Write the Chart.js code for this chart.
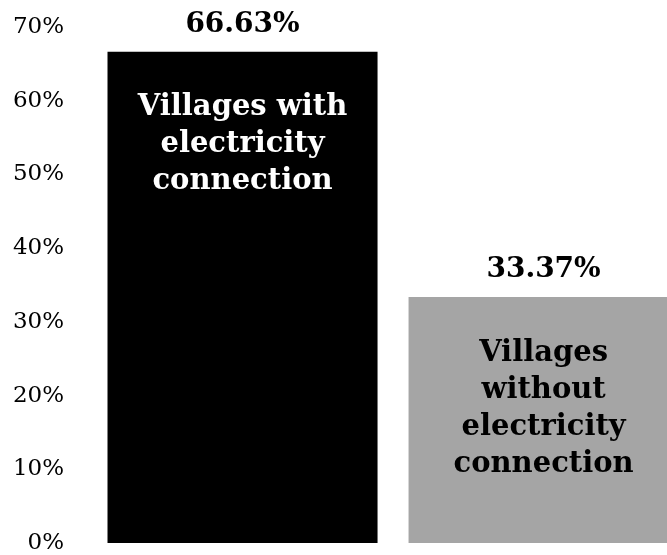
<!DOCTYPE html>
<html>
<head>
<meta charset="utf-8">
<script src="https://cdn.jsdelivr.net/npm/chart.js@4"></script>
<style>
  html, body { margin: 0; padding: 0; background: #fff; }
  #wrap { width: 667px; height: 555px; }
</style>
</head>
<body>
<div id="wrap"><canvas id="c" width="667" height="555"></canvas></div>
<script>
// Share of villages by electricity connection status
const categories = ['Villages with electricity connection', 'Villages without electricity connection'];
const barLines = [
  ['Villages with', 'electricity', 'connection'],
  ['Villages', 'without', 'electricity', 'connection']
];
const shares = [66.63, 33.37];
const shareLabels = ['66.63%', '33.37%'];
const tickValues = [0, 10, 20, 30, 40, 50, 60, 70];

const SERIF = '"DejaVu Serif", "Liberation Serif", serif';

// Writes the value above each bar and the category name inside it
const barText = {
  id: 'barText',
  afterDatasetsDraw(chart) {
    const ctx = chart.ctx;
    const meta = chart.getDatasetMeta(0);
    ctx.save();
    ctx.textAlign = 'center';
    ctx.textBaseline = 'middle';
    meta.data.forEach((bar, i) => {
      ctx.fillStyle = '#000';
      ctx.font = 'bold 28px ' + SERIF;
      ctx.fillText(shareLabels[i], bar.x, bar.y - 27);
      ctx.fillStyle = i === 0 ? '#fff' : '#000';
      ctx.font = 'bold 29px ' + SERIF;
      barLines[i].forEach((line, k) => {
        ctx.fillText(line, bar.x, bar.y + 56 + k * 37);
      });
    });
    ctx.restore();
  }
};

new Chart(document.getElementById('c'), {
  type: 'bar',
  data: {
    datasets: [{
      label: 'Share of villages',
      data: shares.map((v, i) => ({ x: i, y: v, name: categories[i] })),
      backgroundColor: ['#000000', '#a5a5a5'],
      borderWidth: 0,
      categoryPercentage: 1,
      barPercentage: 0.897
    }]
  },
  options: {
    responsive: false,
    animation: false,
    layout: { padding: { top: 27, bottom: 12, left: 0, right: 0 } },
    plugins: { legend: { display: false }, tooltip: { enabled: false } },
    scales: {
      // the second bar runs past the right edge of the canvas
      x: {
        type: 'linear', display: false, offset: false, min: -0.5, max: 1.41,
        afterBuildTicks(axis) { axis.ticks = [{ value: 0 }, { value: 1 }]; }
      },
      y: {
        min: 0,
        max: 70,
        afterBuildTicks(axis) { axis.ticks = tickValues.map(v => ({ value: v })); },
        afterFit(axis) { axis.paddingTop = 0; axis.paddingBottom = 0; axis.width = 92; },
        grid: { display: false, drawTicks: false },
        border: { display: false },
        ticks: {
          color: '#000',
          padding: 28,
          font: { family: SERIF, size: 23 },
          callback: v => v + '%'
        }
      }
    }
  },
  plugins: [barText]
});
</script>
</body>
</html>
